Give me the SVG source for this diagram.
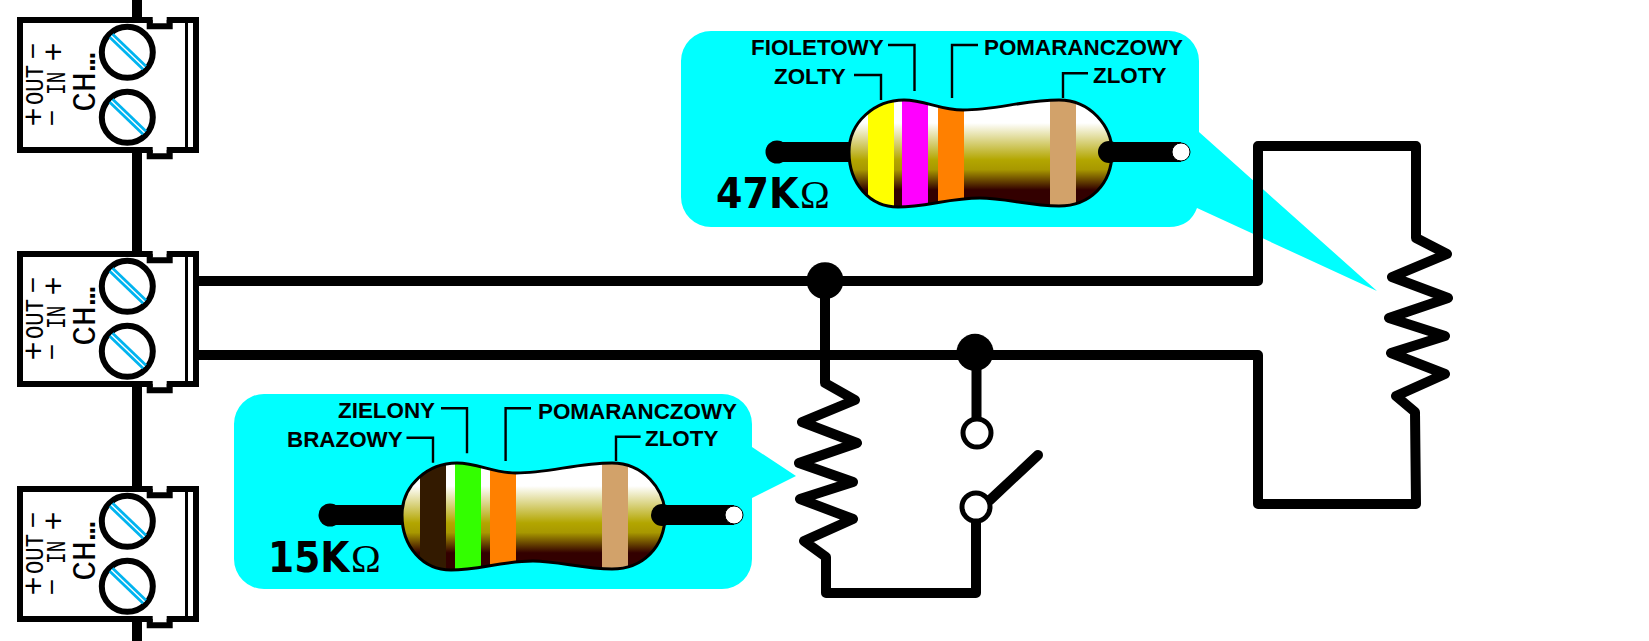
<svg xmlns="http://www.w3.org/2000/svg" xmlns:xlink="http://www.w3.org/1999/xlink" width="1649" height="641" viewBox="0 0 1649 641">
<style>
.wire{fill:none;stroke:#000;stroke-width:10;stroke-linejoin:round;stroke-linecap:round}
.dot{fill:#000}
.open{fill:#fff;stroke:#000;stroke-width:5}
.frame{fill:#fff;stroke:#000;stroke-width:6}
.line{fill:none;stroke:#000;stroke-width:6}
.gap{fill:#fff}
.thin{fill:none;stroke:#000;stroke-width:3}
.screw{fill:#fff;stroke:#000;stroke-width:6}
.slot{stroke:#00b4f0;stroke-width:7;fill:none}
.slotc{stroke:#fff;stroke-width:1.4;fill:none}
.bubble{fill:#0ff}
.lead{fill:none;stroke:#000;stroke-width:2.4}
.lab{font:bold 22.4px "Liberation Sans",Arial,sans-serif;fill:#000}
.val{font:bold 43.5px "DejaVu Sans",sans-serif;fill:#000}
.ohm{font:40px "Liberation Serif",serif;fill:#000}
.m{font-family:"Liberation Mono",monospace;fill:#000}
.s{font-family:"Liberation Sans",sans-serif;fill:#000;text-anchor:middle}
.outline{fill:none;stroke:#000;stroke-width:3}
</style>
<defs>
<linearGradient id="bodyGrad" gradientUnits="userSpaceOnUse" x1="0" y1="100" x2="0" y2="207">
<stop offset="0.215" stop-color="#fff"/>
<stop offset="0.56" stop-color="#b3a600"/>
<stop offset="0.65" stop-color="#a89800"/>
<stop offset="0.84" stop-color="#330000"/>
<stop offset="1" stop-color="#330000"/>
</linearGradient>
<path id="bodyShape" d="M849,152C849,122 875,100 904,100C925,100 940,110 963,110C995,110 1025,100 1059,100C1090,100 1112,126 1112,152C1112,184 1090,206 1059,206C1030,206 1005,198 980,198C950,198 925,207 898,207C870,207 849,184 849,152Z"/>
<clipPath id="bodyClip"><use href="#bodyShape" xlink:href="#bodyShape"/></clipPath>
</defs>

<g id="callout-47k">
<path class="bubble" d="M711,31H1169A30,30 0 0 1 1199,61V132L1377,291L1197,208Q1190,227 1169,227H711A30,30 0 0 1 681,197V61A30,30 0 0 1 711,31Z"/>
</g>
<g id="callout-15k">
<path class="bubble" d="M264,394H722A30,30 0 0 1 752,424V447L796,476L752,498V559A30,30 0 0 1 722,589H264A30,30 0 0 1 234,559V424A30,30 0 0 1 264,394Z"/>
</g>

<g id="connectors">
<path class="wire" d="M137,0V18M137,152V252M137,386V487M137,621V641"/>
<path class="wire" d="M199,281H1258V146H1416V238L1447,254L1392,277L1448,298L1389,318L1445,336L1391,353L1445,374L1396,396L1415,412L1416,504H1258V355H199"/>
<path class="wire" d="M825,281V383L855,400L802,422L857,443L799,463L853,482L800,499L853,519L804,541L826,557V593H976V520"/>
<path class="wire" d="M976.5,352V420"/>
<path class="wire" d="M990,500L1038,455"/>
</g>

<g id="junction-1"><circle class="dot" cx="825" cy="280.7" r="18.5"/></g>
<g id="junction-2"><circle class="dot" cx="975" cy="352.3" r="18.5"/></g>
<g id="switch-top"><circle class="open" cx="977" cy="433" r="14"/></g>
<g id="switch-bottom"><circle class="open" cx="976" cy="507" r="14"/></g>

<g id="resistor-47k">
<rect x="777" y="142" width="80" height="20" fill="#000"/>
<circle class="dot" cx="777" cy="152" r="11.5"/>
<g clip-path="url(#bodyClip)">
<rect x="840" y="95" width="280" height="120" fill="url(#bodyGrad)"/>
<rect x="868" y="95" width="26" height="120" fill="#ff0"/>
<rect x="902" y="95" width="26" height="120" fill="#f0f"/>
<rect x="938" y="95" width="26" height="120" fill="#ff8000"/>
<rect x="1050" y="95" width="26" height="120" fill="#d2a26a"/>
</g>
<use class="outline" href="#bodyShape" xlink:href="#bodyShape"/>
<rect x="1109" y="142" width="72" height="20" fill="#000"/>
<circle class="dot" cx="1109" cy="152" r="11"/>
<circle cx="1181" cy="152" r="9" fill="#fff" stroke="#000" stroke-width="1"/>
<path class="lead" d="M888,45H914.5V91M854,75H881V100M978,45H952V98M1088,73.3H1063V98"/>
<text class="lab" x="751" y="55">FIOLETOWY</text>
<text class="lab" x="774" y="83.5">ZOLTY</text>
<text class="lab" x="984" y="55">POMARANCZOWY</text>
<text class="lab" x="1093" y="82.5">ZLOTY</text>
<text class="val" transform="translate(716,208) scale(.875,1)">47K</text>
<text class="ohm" x="800" y="208">Ω</text>
</g>

<g id="resistor-15k">
<g transform="translate(-447,363)">
<rect x="777" y="142" width="80" height="20" fill="#000"/>
<circle class="dot" cx="777" cy="152" r="11.5"/>
<g clip-path="url(#bodyClip)">
<rect x="840" y="95" width="280" height="120" fill="url(#bodyGrad)"/>
<rect x="867" y="95" width="26" height="120" fill="#331a00"/>
<rect x="902" y="95" width="26" height="120" fill="#3f0"/>
<rect x="937" y="95" width="26" height="120" fill="#ff8000"/>
<rect x="1049" y="95" width="26" height="120" fill="#d2a26a"/>
</g>
<use class="outline" href="#bodyShape" xlink:href="#bodyShape"/>
<rect x="1109" y="142" width="72" height="20" fill="#000"/>
<circle class="dot" cx="1109" cy="152" r="11"/>
<circle cx="1181" cy="152" r="9" fill="#fff" stroke="#000" stroke-width="1"/>
</g>
<path class="lead" d="M441,408.3H467V453.3M406.5,437.7H433V462.7M531,408.3H505.6V461M640.6,436.7H616V461"/>
<text class="lab" x="338" y="417.7">ZIELONY</text>
<text class="lab" x="287" y="446.7">BRAZOWY</text>
<text class="lab" x="538" y="418.7">POMARANCZOWY</text>
<text class="lab" x="645" y="446">ZLOTY</text>
<text class="val" transform="translate(268,571.7) scale(.865,1)">15K</text>
<text class="ohm" x="351" y="571.7">Ω</text>
</g>

<g id="terminal-1">
<rect class="frame" x="20" y="20" width="176" height="130"/>
<path class="gap" d="M152.7,16H166.7V23.2H152.7ZM152.7,146.8H166.7V154H152.7Z"/>
<path class="line" d="M149.7,20V26.3H169.7V20M149.7,150V156.3H169.7V150"/>
<path class="thin" d="M186.5,20V150"/>
<circle class="screw" cx="127.3" cy="52.3" r="25.5"/><path class="slot" d="M111.2,35.8L144.5,67.8"/><path class="slotc" d="M111.2,35.8L144.5,67.8"/>
<circle class="screw" cx="127.3" cy="117.3" r="25.5"/><path class="slot" d="M111.2,100.8L144.5,132.8"/><path class="slotc" d="M111.2,100.8L144.5,132.8"/>
<text class="s" font-size="32" transform="translate(44,117) rotate(-90)">+</text>
<text class="m" font-size="25" textLength="40" lengthAdjust="spacingAndGlyphs" transform="translate(43.3,105) rotate(-90)">OUT</text>
<text class="s" font-size="28" transform="translate(42,51) rotate(-90)">−</text>
<text class="s" font-size="28" transform="translate(61,118) rotate(-90)">−</text>
<text class="m" font-size="27" textLength="23.3" lengthAdjust="spacingAndGlyphs" transform="translate(65,95) rotate(-90)">IN</text>
<text class="s" font-size="32" transform="translate(64,52) rotate(-90)">+</text>
<text class="m" font-size="33" transform="translate(95,111.7) rotate(-90)">CH<tspan dx="-6" letter-spacing="-13.5">...</tspan></text>
</g>

<g id="terminal-2" transform="translate(0,234)">
<rect class="frame" x="20" y="20" width="176" height="130"/>
<path class="gap" d="M152.7,16H166.7V23.2H152.7ZM152.7,146.8H166.7V154H152.7Z"/>
<path class="line" d="M149.7,20V26.3H169.7V20M149.7,150V156.3H169.7V150"/>
<path class="thin" d="M186.5,20V150"/>
<circle class="screw" cx="127.3" cy="52.3" r="25.5"/><path class="slot" d="M111.2,35.8L144.5,67.8"/><path class="slotc" d="M111.2,35.8L144.5,67.8"/>
<circle class="screw" cx="127.3" cy="117.3" r="25.5"/><path class="slot" d="M111.2,100.8L144.5,132.8"/><path class="slotc" d="M111.2,100.8L144.5,132.8"/>
<text class="s" font-size="32" transform="translate(44,117) rotate(-90)">+</text>
<text class="m" font-size="25" textLength="40" lengthAdjust="spacingAndGlyphs" transform="translate(43.3,105) rotate(-90)">OUT</text>
<text class="s" font-size="28" transform="translate(42,51) rotate(-90)">−</text>
<text class="s" font-size="28" transform="translate(61,118) rotate(-90)">−</text>
<text class="m" font-size="27" textLength="23.3" lengthAdjust="spacingAndGlyphs" transform="translate(65,95) rotate(-90)">IN</text>
<text class="s" font-size="32" transform="translate(64,52) rotate(-90)">+</text>
<text class="m" font-size="33" transform="translate(95,111.7) rotate(-90)">CH<tspan dx="-6" letter-spacing="-13.5">...</tspan></text>
</g>

<g id="terminal-3" transform="translate(0,469)">
<rect class="frame" x="20" y="20" width="176" height="130"/>
<path class="gap" d="M152.7,16H166.7V23.2H152.7ZM152.7,146.8H166.7V154H152.7Z"/>
<path class="line" d="M149.7,20V26.3H169.7V20M149.7,150V156.3H169.7V150"/>
<path class="thin" d="M186.5,20V150"/>
<circle class="screw" cx="127.3" cy="52.3" r="25.5"/><path class="slot" d="M111.2,35.8L144.5,67.8"/><path class="slotc" d="M111.2,35.8L144.5,67.8"/>
<circle class="screw" cx="127.3" cy="117.3" r="25.5"/><path class="slot" d="M111.2,100.8L144.5,132.8"/><path class="slotc" d="M111.2,100.8L144.5,132.8"/>
<text class="s" font-size="32" transform="translate(44,117) rotate(-90)">+</text>
<text class="m" font-size="25" textLength="40" lengthAdjust="spacingAndGlyphs" transform="translate(43.3,105) rotate(-90)">OUT</text>
<text class="s" font-size="28" transform="translate(42,51) rotate(-90)">−</text>
<text class="s" font-size="28" transform="translate(61,118) rotate(-90)">−</text>
<text class="m" font-size="27" textLength="23.3" lengthAdjust="spacingAndGlyphs" transform="translate(65,95) rotate(-90)">IN</text>
<text class="s" font-size="32" transform="translate(64,52) rotate(-90)">+</text>
<text class="m" font-size="33" transform="translate(95,111.7) rotate(-90)">CH<tspan dx="-6" letter-spacing="-13.5">...</tspan></text>
</g>
</svg>
